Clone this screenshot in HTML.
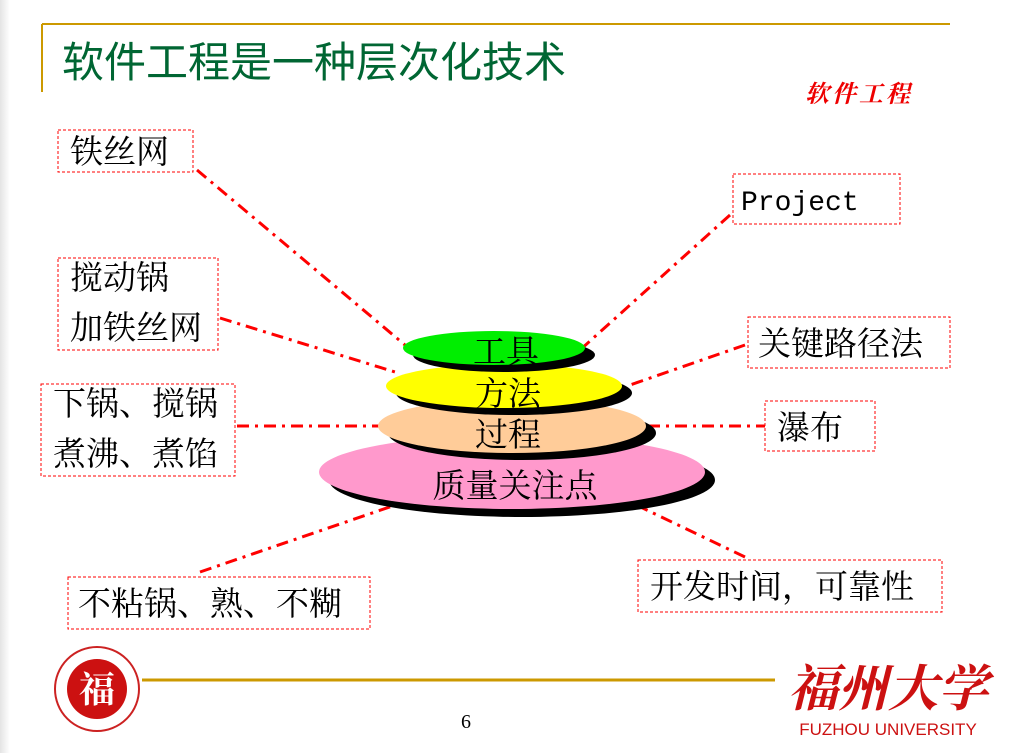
<!DOCTYPE html>
<html><head><meta charset="utf-8"><style>
body{margin:0;width:1009px;height:753px;overflow:hidden;background:#fff;position:relative;font-family:"Liberation Serif","Noto Serif CJK SC",serif}
svg{position:absolute;left:0;top:0}
</style></head><body>
<svg width="1009" height="753" font-family="'Liberation Serif','Noto Serif CJK SC',serif">
<defs><linearGradient id="lg" x1="0" x2="1"><stop offset="0" stop-color="#e4e4e4"/><stop offset="1" stop-color="#fff"/></linearGradient></defs>
<rect x="0" y="0" width="10" height="753" fill="url(#lg)"/>
<line x1="42" y1="24" x2="950" y2="24" stroke="#cc9900" stroke-width="2"/>
<line x1="42" y1="24" x2="42" y2="92" stroke="#cc9900" stroke-width="2"/>
<text x="62" y="77" font-size="42" fill="#006633" font-family="'Noto Sans CJK SC',sans-serif">软件工程是一种层次化技术</text>
<text x="805" y="102" font-size="24" fill="#e00" font-weight="bold" font-style="italic" letter-spacing="3" font-family="'Noto Serif CJK SC',serif">软件工程</text>

<g stroke="#ff0000" stroke-width="3" stroke-dasharray="12,6,3,6" fill="none">
<line x1="197" y1="170" x2="405" y2="345"/>
<line x1="220" y1="318" x2="395" y2="372"/>
<line x1="237" y1="426" x2="380" y2="426"/>
<line x1="200" y1="572" x2="410" y2="500"/>
<line x1="730" y1="215" x2="580" y2="350"/>
<line x1="745" y1="345" x2="630" y2="385"/>
<line x1="648" y1="426" x2="765" y2="426"/>
<line x1="745" y1="557" x2="630" y2="502"/>
</g>

<g>
<ellipse cx="522" cy="480" rx="193" ry="37" fill="#000"/>
<ellipse cx="512" cy="472" rx="193" ry="37" fill="#ff99cc"/>
<text x="515" y="497" font-size="33" text-anchor="middle">质量关注点</text></g>
<g>
<ellipse cx="522" cy="433" rx="134" ry="27" fill="#000"/>
<ellipse cx="512" cy="426" rx="134" ry="27" fill="#ffcc99"/>
<text x="508" y="446" font-size="33" text-anchor="middle">过程</text></g>
<g>
<ellipse cx="514" cy="393" rx="118" ry="22" fill="#000"/>
<ellipse cx="504" cy="386" rx="118" ry="22" fill="#ffff00"/>
<text x="508" y="405" font-size="33" text-anchor="middle">方法</text></g>
<g>
<ellipse cx="504" cy="355" rx="91" ry="17" fill="#000"/>
<ellipse cx="494" cy="348" rx="91" ry="17" fill="#00ee00"/>
<text x="506" y="363" font-size="33" text-anchor="middle">工具</text></g>

<g stroke="#ff0000" stroke-width="1" stroke-dasharray="3,2" fill="#fff">
<rect x="58" y="130" width="135" height="42"/>
<rect x="58" y="258" width="160" height="92"/>
<rect x="41" y="384" width="194" height="92"/>
<rect x="68" y="577" width="302" height="52"/>
<rect x="733" y="174" width="167" height="50"/>
<rect x="748" y="317" width="202" height="51"/>
<rect x="765" y="401" width="110" height="50"/>
<rect x="638" y="560" width="304" height="52"/>
</g>
<g font-size="33" fill="#000">
<text x="70" y="163">铁丝网</text>
<text x="70" y="289">搅动锅</text>
<text x="70" y="339">加铁丝网</text>
<text x="53" y="415">下锅、搅锅</text>
<text x="53" y="465">煮沸、煮馅</text>
<text x="78" y="615">不粘锅、熟、不糊</text>
<text x="741" y="210" font-family="'Liberation Mono',monospace" font-size="28">Project</text>
<text x="758" y="355">关键路径法</text>
<text x="777" y="439">瀑布</text>
<text x="650" y="598">开发时间，可靠性</text>
</g>

<line x1="142" y1="680" x2="775" y2="680" stroke="#cc9900" stroke-width="3"/>
<g>
<circle cx="97" cy="689" r="42" fill="#fff" stroke="#cc2222" stroke-width="2"/>
<circle cx="97" cy="689" r="30" fill="#cc1111"/>
<text x="97" y="702" font-size="36" fill="#fff" text-anchor="middle" font-weight="bold">福</text>
</g>
<text x="466" y="728" font-size="20" text-anchor="middle">6</text>
<text x="888" y="706" font-size="50" fill="#cc1111" text-anchor="middle" font-weight="bold" font-style="italic" font-family="'Noto Serif CJK SC',serif">福州大学</text>
<text x="888" y="735" font-size="17" fill="#cc1111" text-anchor="middle" font-family="'Liberation Sans',sans-serif">FUZHOU UNIVERSITY</text>
</svg>
</body></html>
